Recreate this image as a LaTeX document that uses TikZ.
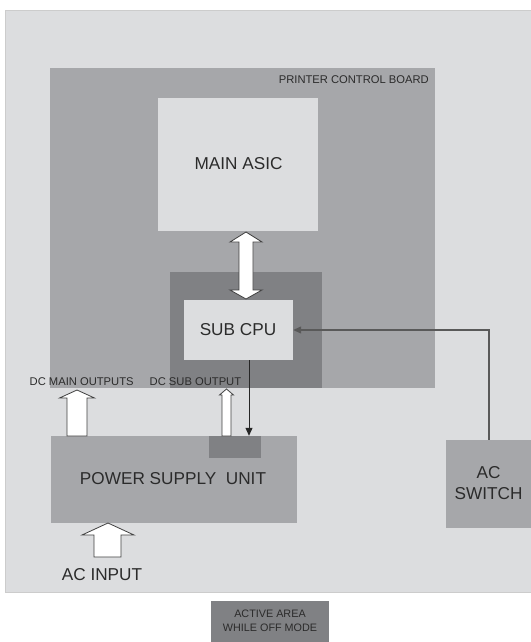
\documentclass[tikz,border=0pt]{standalone}
\usepackage{fontspec}
\setmainfont{Liberation Sans}
\usetikzlibrary{arrows.meta,calc}
\definecolor{bglight}{HTML}{DCDDDF}
\definecolor{midgray}{HTML}{A6A7AA}
\definecolor{darkgray}{HTML}{808184}
\definecolor{txt}{HTML}{2B2B2B}
\tikzset{
  box/.style={inner sep=0pt, draw=none, text=txt, align=center},
  bigtext/.style={font=\fontsize{17.2}{21}\selectfont},
  smalltext/.style={font=\fontsize{11.2}{12}\selectfont},
  blockarrow/.style={fill=white, draw=black!75, line width=0.8pt, line join=miter},
  sig/.style={draw=black!85, line width=1pt},
}
\begin{document}
\begin{tikzpicture}[x=1pt,y=-1pt]
\useasboundingbox (0,0) rectangle (530,642);
\fill[white] (0,0) rectangle (530,642);
% outer area
\node[box, fill=bglight, draw=black!20, line width=0.6pt, minimum width=527pt, minimum height=582pt] (outer) at (268.5,301) {};
% board
\node[box, fill=midgray, minimum width=385pt, minimum height=320pt] (board) at (242.5,228) {};
\node[box, anchor=east, smalltext] (boardlbl) at (429,80) {PRINTER CONTROL BOARD};
% main asic
\node[box, fill=bglight, minimum width=160pt, minimum height=133pt] (asic) at (238,164.5) {};
\node[box, bigtext] (asiclbl) at (238.5,163.5) {MAIN ASIC};
% dark sub area
\node[box, fill=darkgray, minimum width=152pt, minimum height=116pt] (subarea) at (246,330) {};
% sub cpu
\node[box, fill=bglight, minimum width=109pt, minimum height=60pt] (subcpu) at (238.5,330) {};
\node[box, bigtext] (subcpulbl) at (238,329.5) {SUB CPU};
% PSU
\node[box, fill=midgray, minimum width=246pt, minimum height=87pt] (psu) at (174,479.5) {};
\node[box, fill=darkgray, minimum width=52pt, minimum height=22pt] (psudark) at (235,447) {};
\node[box, bigtext] (psulbl) at (173,479) {POWER SUPPLY\ \ UNIT};
% AC switch
\node[box, fill=midgray, minimum width=86pt, minimum height=88pt] (acsw) at (489,484) {};
\node[box, bigtext] (acswlbl) at (488.5,483) {AC\\SWITCH};
% labels
\node[box, anchor=west, smalltext] (dcmain) at (29.5,382) {DC MAIN OUTPUTS};
\node[box, anchor=west, smalltext] (dcsub) at (149.5,382) {DC SUB OUTPUT};
\node[box, bigtext] (acin) at (102,575) {AC INPUT};
% legend
\node[box, fill=darkgray, minimum width=118pt, minimum height=43pt] (legend) at (270,622.5) {};
\node[box, font=\fontsize{10.8}{14}\selectfont] (legendlbl) at (270,620.5) {ACTIVE AREA\\WHILE OFF MODE};
% double arrow asic <-> sub cpu
\path[blockarrow] (246,232) -- (262,242) -- (253,242) -- (253,290) -- (262,290) -- (246,299) -- (230,290) -- (239,290) -- (239,242) -- (230,242) -- cycle;
% DC main output arrow
\path[blockarrow] (77,390) -- (94.5,398) -- (87,398) -- (87,436) -- (67,436) -- (67,398) -- (59.5,398) -- cycle;
% DC sub output arrow
\path[blockarrow] (226.5,389) -- (233.5,395) -- (231,395) -- (231,436) -- (222,436) -- (222,395) -- (219.5,395) -- cycle;
% AC input arrow
\path[blockarrow] (108,523) -- (134,535) -- (121,535) -- (121,557) -- (94,557) -- (94,535) -- (82,535) -- cycle;
% signal lines
\coordinate (corner) at (acsw.north |- subcpu.east);
\draw[sig, draw=black!65, line width=1.3pt, -{Triangle[length=8pt,width=7pt]}] (acsw.north) -- (corner) -- (subcpu.east);
\draw[sig, -{Triangle[length=8pt,width=7pt]}] (subcpu.south -| 249,0) -- (psudark.north -| 249,0);
\end{tikzpicture}
\end{document}
